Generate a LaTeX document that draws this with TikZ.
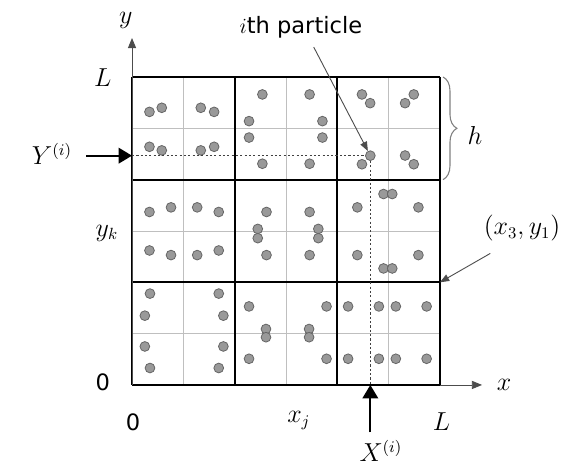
\documentclass[tikz,border=0pt]{standalone}
\usepackage{fontspec}
\newfontfamily\labelsans{DejaVu Sans}
\usetikzlibrary{arrows.meta,decorations.pathreplacing}

\begin{document}
\begin{tikzpicture}[x=1cm, y=1cm, font=\fontsize{13.5}{16}\selectfont,
    particle/.style={circle, fill=gray!80, draw=black!60, line width=0.45pt, inner sep=0pt, minimum size=0.19cm},
    subgrid/.style={gray!50, line width=0.4pt},
    cellgrid/.style={black, line width=1.1pt},
    sanslabel/.style={font=\fontsize{12.5}{15}\labelsans},
    axis/.style={black!70, line width=0.5pt, -{Triangle[length=2mm,width=1.6mm]}},
    marker/.style={black, line width=1.2pt, -{Triangle[length=2.6mm,width=3mm]}},
    leader/.style={black!70, line width=0.5pt, -{Triangle[length=1.8mm,width=1.4mm]}},
    guide/.style={black!75, line width=0.6pt, dash pattern=on 1.2pt off 1.2pt}]
  \useasboundingbox (-2.572,-1.597) rectangle (8.397,7.50);
  \draw[subgrid] (0,0) grid (6,6);
  \draw[cellgrid, step=2] (0,0) grid (6,6);

  \coordinate (O) at (0,0);
  \coordinate (ytip) at (0,6.76);
  \coordinate (xend) at (6,0);
  \coordinate (xtip) at (6.82,0);
  \coordinate (yi) at (0,4.467);
  \coordinate (xi) at (4.643,0);
  \coordinate (c31) at (6,2);
  \coordinate (btop) at (6.06,6);
  \coordinate (bbot) at (6.06,4);

  \foreach \px/\py [count=\n] in {
      0.34/5.32, 0.58/5.40, 1.34/5.40, 1.60/5.32, 0.34/4.64, 0.58/4.57, 1.34/4.57, 1.60/4.64,
      2.54/5.66, 3.46/5.66, 2.28/5.14, 3.71/5.14, 2.28/4.82, 3.71/4.82, 2.54/4.31, 3.46/4.31,
      4.48/5.66, 4.64/5.49, 5.49/5.66, 5.32/5.49, 4.48/4.30, 5.32/4.47, 5.49/4.30,
      0.34/3.37, 0.76/3.46, 1.27/3.46, 1.69/3.37, 0.34/2.62, 0.76/2.53, 1.27/2.53, 1.69/2.62,
      2.62/3.37, 3.46/3.37, 2.45/3.04, 2.45/2.86, 3.63/3.04, 3.63/2.86, 2.62/2.53, 3.46/2.53,
      4.90/3.72, 5.07/3.72, 4.39/3.46, 5.58/3.46, 4.39/2.53, 5.58/2.53, 4.90/2.27, 5.07/2.27,
      0.35/1.78, 1.69/1.78, 0.25/1.35, 1.78/1.35, 0.25/0.75, 1.78/0.75, 0.35/0.33, 1.69/0.33,
      2.28/1.53, 3.79/1.53, 2.61/1.09, 2.61/0.93, 3.45/1.09, 3.45/0.93, 2.28/0.51, 3.79/0.51,
      4.21/1.53, 4.81/1.53, 5.14/1.53, 5.74/1.53, 4.21/0.51, 4.81/0.51, 5.14/0.51, 5.74/0.51}
    \node[particle] (p\n) at (\px,\py) {};
  \node[particle] (pi) at (4.643,4.467) {};

  \node (ylab) at (-0.12,7.11) {$y$};
  \node (xlab) at (7.25,0) {$x$};
  \node (Ltop) at (-0.57,5.98) {$L$};
  \node (yk) at (-0.49,2.96) {$y_k$};
  \node[sanslabel] (zeroy) at (-0.57,0.06) {0};
  \node[sanslabel] (zerox) at (0.02,-0.72) {0};
  \node (xj) at (3.25,-0.70) {$x_j$};
  \node (Lright) at (6.03,-0.72) {$L$};
  \node (Yi) at (-1.56,4.50) {$Y^{(i)}$};
  \node (Xi) at (4.85,-1.28) {$X^{(i)}$};
  \node[sanslabel] (ith) at (3.29,6.97) {$i$th particle};
  \node (h) at (6.68,4.87) {$h$};
  \node (corner) at (7.60,3.06) {$(x_3,y_1)$};

  \draw[axis] (O) -- (ytip);
  \draw[axis] (xend) -- (xtip);
  \draw[marker] (Yi.east |- yi) ++(0.15,0) -- (yi);
  \draw[marker] (xi |- Xi.north) ++(0,0.02) -- (xi);
  \draw[guide] (yi) -- (pi);
  \draw[guide] (pi) -- (xi);
  \draw[leader] (ith.south) ++(0.25,-0.05) -- (pi);
  \draw[leader] (corner.south west) ++(0.25,-0.12) -- (c31);
  \draw[gray, line width=0.6pt, decorate, decoration={brace, amplitude=0.27cm}] (btop) -- (bbot);
\end{tikzpicture}
\end{document}
